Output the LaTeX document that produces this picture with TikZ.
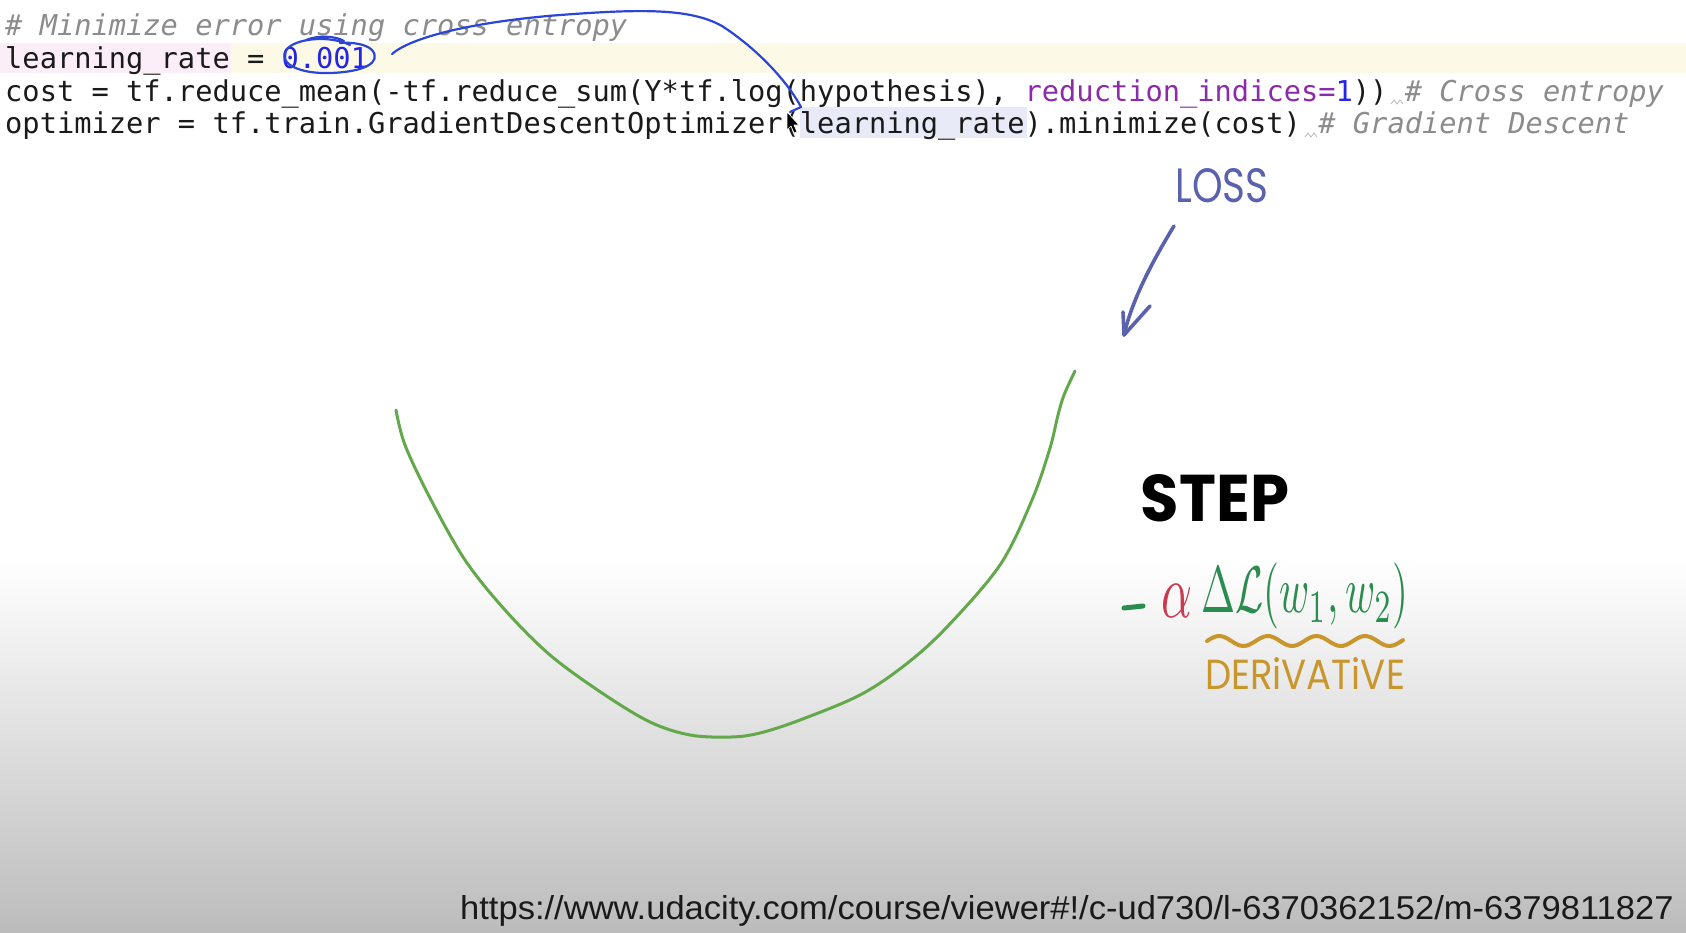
\documentclass[tikz,border=0pt]{standalone}
\usepackage{fontspec}
\usepackage{graphicx}
\usetikzlibrary{arrows.meta}
\newfontfamily\codefont{DejaVu Sans Mono}
\newfontfamily\urlfont{Liberation Sans}
\newfontfamily\handfont{Poppins}
\definecolor{codeblack}{HTML}{1A1A1A}
\definecolor{cmtgray}{HTML}{8C8C8C}
\definecolor{numblue}{HTML}{2424E8}
\definecolor{kwpurple}{HTML}{8A2BA8}
\definecolor{bandyellow}{HTML}{FCFAE6}
\definecolor{bandpink}{HTML}{FBEEF9}
\definecolor{bandblue}{HTML}{E8EAF8}
\definecolor{penblue}{HTML}{2B45D8}
\definecolor{lossblue}{HTML}{5A62AE}
\definecolor{curvegreen}{HTML}{63A84A}
\definecolor{formgreen}{HTML}{2A8C4E}
\definecolor{alphared}{HTML}{C93A4E}
\definecolor{gold}{HTML}{C9962C}
\definecolor{bottomgray}{HTML}{BCBCBC}
\newcommand\codecmt[1]{\textcolor{cmtgray}{\itshape #1}}
\begin{document}
\begin{tikzpicture}[x=1pt,y=-1pt,
  codeline/.style={anchor=base west, inner sep=0pt, text=codeblack,
    font=\codefont\fontsize{28.7}{33}\selectfont},
  hand/.style={inner sep=0pt, font=\handfont},
  pen/.style={draw=penblue, line width=2.2pt, line cap=round, line join=round},
  losspen/.style={draw=lossblue, line width=3.6pt, line cap=round, line join=round},
  curve/.style={draw=curvegreen, line width=3pt, line cap=round}]
\useasboundingbox (0,0) rectangle (1686,932);
% background
\fill[white] (0,0) rectangle (1686,932);
\shade[top color=white, bottom color=bottomgray] (0,560) rectangle (1686,932);
% line highlights
\fill[bandyellow] (0,43) rectangle (1686,73);
\fill[bandpink] (0,43) rectangle (231,73);
\fill[bandblue] (800,107) rectangle (1027,138);
% code
\node[codeline] (l1) at (5,35) {\codecmt{\# Minimize error using cross entropy}};
\node[codeline] (l2) at (5,68) {learning\_rate = \textcolor{numblue}{0.001}};
\node[codeline] (l3) at (5,101) {cost = tf.reduce\_mean(-tf.reduce\_sum(Y*tf.log(hypothesis), \textcolor{kwpurple}{reduction\_indices=}\textcolor{numblue}{1})) \codecmt{\# Cross entropy}};
\node[codeline] (l4) at (5,133) {optimizer = tf.train.GradientDescentOptimizer(learning\_rate).minimize(cost) \codecmt{\# Gradient Descent}};
% spell-check squiggles
\draw[cmtgray!60, line width=0.8pt] (1391,104) -- (1394,100) -- (1397,104) -- (1400,100) -- (1403,104);
\draw[cmtgray!60, line width=0.8pt] (1305,137) -- (1308,133) -- (1311,137) -- (1314,133) -- (1317,137);
% pen annotation: ellipse around 0.001 and arrow to learning_rate
\draw[pen] (350,45) .. controls (330,35) and (295,38) .. (286,50)
  .. controls (278,64) and (300,74) .. (330,73)
  .. controls (365,72) and (382,62) .. (372,50)
  .. controls (366,44) and (352,42) .. (340,43);
\draw[pen] (306,40) .. controls (318,35) and (336,36) .. (344,41);
\coordinate (pentip) at (801,107);
\draw[pen] (392,54) .. controls (410,38) and (470,22) .. (560,15)
  .. controls (640,9) and (690,8) .. (722,26)
  .. controls (762,52) and (790,86) .. (pentip);
\draw[pen] (pentip) -- (790,112);
% mouse cursor
\filldraw[fill=black, draw=white, line width=0.6pt] (787,112) -- (787,130) -- (791,126) -- (794,133) -- (797,132) -- (794,125) -- (799,125) -- cycle;
% loss curve
\draw[curve] plot[smooth, tension=0.55] coordinates {(396,410) (405,445) (430,498) (465,560) (505,610) (550,655) (602,693) (650,722) (690,735) (731,737) (760,733) (800,720) (860,695) (905,665) (946,628) (1000,565) (1032,500) (1050,448) (1058,415) (1064,395) (1075,371)};
% LOSS label and arrow
\node[hand, text=lossblue] (loss) at (1222,186) {\resizebox{93pt}{34pt}{LOSS}};
\coordinate (lossstart) at (1174,226);
\coordinate (losstip) at (1124,335);
\draw[losspen] (lossstart) .. controls (1152,262) and (1132,300) .. (losstip);
\draw[losspen] (1123,312) -- (losstip) -- (1150,306);
% STEP
\node[hand, text=black, font=\handfont\bfseries] (step) at (1215,498) {\resizebox{148pt}{47pt}{STEP}};
% formula
\draw[formgreen, line width=5pt, line cap=round] (1124,608) -- (1143,606);
\node[inner sep=0pt, text=alphared] (alpha) at (1177,601) {\resizebox*{31pt}{33pt}{$\alpha$}};
\node[inner sep=0pt, text=formgreen] (grad) at (1305,596) {\resizebox*{207pt}{66pt}{$\Delta\mathcal{L}(w_1,w_2)$}};
% wavy underline and DERIVATIVE
\draw[gold, line width=4pt, line cap=round] plot[smooth, domain=1207:1403, samples=60] (\x, {641 - 5*sin((\x-1207)*7.4)});
\node[hand, text=gold] (deriv) at (1305,673) {\resizebox{200pt}{32pt}{DERiVATiVE}};
% URL
\node[anchor=base west, inner sep=0pt, text=codeblack] (url) at (460,919) {\resizebox{1213pt}{24pt}{\urlfont https://www.udacity.com/course/viewer\#!/c-ud730/l-6370362152/m-6379811827}};
\end{tikzpicture}
\end{document}
